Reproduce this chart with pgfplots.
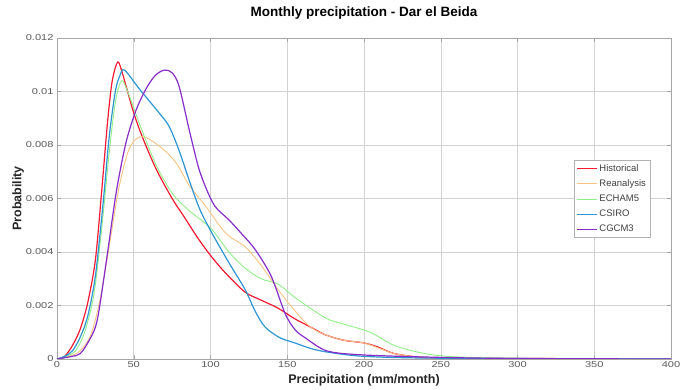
\documentclass[border=0pt]{standalone}
\usepackage{pgfplots}
\pgfplotsset{compat=1.18}
\usepackage{fontspec}
\setmainfont{Liberation Sans}
\newfontfamily\tickfont[FakeStretch=1.3]{Liberation Sans}
\definecolor{histred}{RGB}{245,25,50}
\definecolor{reancol}{RGB}{248,195,130}
\definecolor{echamcol}{RGB}{145,238,135}
\definecolor{csirocol}{RGB}{45,150,210}
\definecolor{cgcmcol}{RGB}{135,45,200}
\begin{document}
\begin{tikzpicture}
\begin{axis}[
  scale only axis, width=614pt, height=321pt,
  xmin=0, xmax=400, ymin=0, ymax=12,
  xtick={0,50,...,400}, ytick={0,2,...,12},
  yticklabels={0,0.002,0.004,0.006,0.008,0.01,0.012},
  y filter/.expression={1000*y},
  /pgf/number format/assume math mode=true,
  tick label style={font=\tickfont\fontsize{8.5}{9}\selectfont, text=black!65},
  xticklabel style={yshift=1pt},
  grid=major, major grid style={gray!35, line width=0.5pt},
  axis line style={gray!70}, tick style={gray!70},
  title={\bfseries Monthly precipitation - Dar el Beida},
  title style={font=\fontsize{13.5}{14}\selectfont, at={(0.5,1)}, anchor=base, yshift=15pt},
  xlabel={\bfseries Precipitation (mm/month)},
  ylabel={\bfseries Probability},
  label style={font=\fontsize{12.5}{13}\selectfont, text=black!85},
  xlabel style={at={(axis description cs:0.5,0)}, anchor=base, yshift=-25pt},
  ylabel style={at={(axis description cs:-0.058,0.5)}, anchor=base},
  legend style={at={(0.966,0.62)}, anchor=north east, font=\fontsize{9.5}{10}\selectfont, draw=gray!60, text=black!75, row sep=3pt, inner sep=2pt},
  legend image code/.code={\draw[#1] (0pt,0pt) -- (20pt,0pt);},
  legend cell align=left,
]
\addplot[histred, smooth, line width=1.2pt] coordinates {(0,0) (5,0.0001) (10,0.0005) (15,0.0011) (20,0.0021) (25,0.0037) (29,0.0062) (33,0.0089) (36,0.0104) (39.5,0.0111) (42,0.0108) (45,0.0102) (50,0.0092) (55.6,0.0083) (64.6,0.0071) (75,0.0060) (83,0.0053) (92,0.0045) (101,0.0038) (110,0.0032) (122.5,0.0025) (133,0.0022) (144,0.0019) (155,0.0015) (165,0.0012) (175,0.0009) (187,0.0007) (200,0.0006) (209,0.00045) (220,0.0002) (240,0.00005) (270,0.00003) (300,0.00002) (400,0)};
\addlegendentry{Historical}
\addplot[reancol, smooth, line width=0.9pt] coordinates {(0,0) (8,0.0001) (15,0.0003) (22,0.0009) (28,0.0022) (34,0.0042) (40,0.0063) (46,0.0077) (51,0.0082) (57,0.0083) (68,0.0079) (78,0.0073) (86,0.0065) (97,0.0057) (110,0.0047) (122.5,0.0042) (133,0.0035) (144,0.0026) (155,0.0018) (165,0.0012) (175,0.0009) (187,0.0007) (200,0.0006) (210,0.0004) (220,0.0002) (235,0.00008) (260,0.00003) (300,0.00002) (400,0)};
\addlegendentry{Reanalysis}
\addplot[echamcol, smooth, line width=0.9pt] coordinates {(0,0) (6,0.0001) (12,0.0003) (18,0.0010) (24,0.0024) (29,0.0048) (34,0.0077) (38,0.0096) (42,0.0104) (46,0.0100) (55,0.0086) (65,0.0072) (75,0.0062) (85,0.0056) (100,0.0049) (112,0.0040) (122.5,0.0034) (133,0.0030) (144,0.0028) (155,0.0023) (165,0.0019) (176,0.0015) (187,0.0013) (204,0.0010) (220,0.0005) (240,0.0002) (260,0.00008) (300,0.00003) (350,0.00002) (400,0)};
\addlegendentry{ECHAM5}
\addplot[csirocol, smooth, line width=1.2pt] coordinates {(0,0) (5,0.0001) (10,0.0003) (15,0.0008) (20,0.0016) (25,0.0031) (30,0.0058) (34,0.0083) (38,0.0100) (41,0.0106) (44,0.0108) (53.6,0.0101) (66.5,0.0092) (73,0.0087) (79.5,0.0078) (86,0.0067) (93,0.0056) (101,0.0047) (112,0.0036) (122.5,0.0026) (129,0.0018) (135.5,0.0012) (145,0.0008) (155,0.0006) (165,0.0004) (176,0.00026) (200,0.0001) (250,0.00003) (400,0)};
\addlegendentry{CSIRO}
\addplot[cgcmcol, smooth, line width=1.2pt] coordinates {(0,0) (10,0.0001) (15,0.0002) (20,0.0006) (26,0.0014) (32,0.0036) (38.5,0.0062) (45,0.0081) (51.5,0.0093) (58,0.0101) (64,0.0106) (70,0.0108) (75,0.0107) (79.5,0.0102) (86,0.0086) (92,0.0072) (97,0.0064) (103,0.0057) (112,0.0052) (120,0.0047) (129,0.0041) (139.5,0.0031) (148.6,0.0017) (155,0.0011) (161.5,0.0008) (176,0.0003) (200,0.00015) (250,0.00006) (300,0.00002) (400,0)};
\addlegendentry{CGCM3}
\end{axis}
\pgfresetboundingbox
\path[use as bounding box] ([xshift=-57pt,yshift=-31pt]current axis.south west) rectangle ([xshift=11pt,yshift=38pt]current axis.north east);
\end{tikzpicture}
\end{document}
